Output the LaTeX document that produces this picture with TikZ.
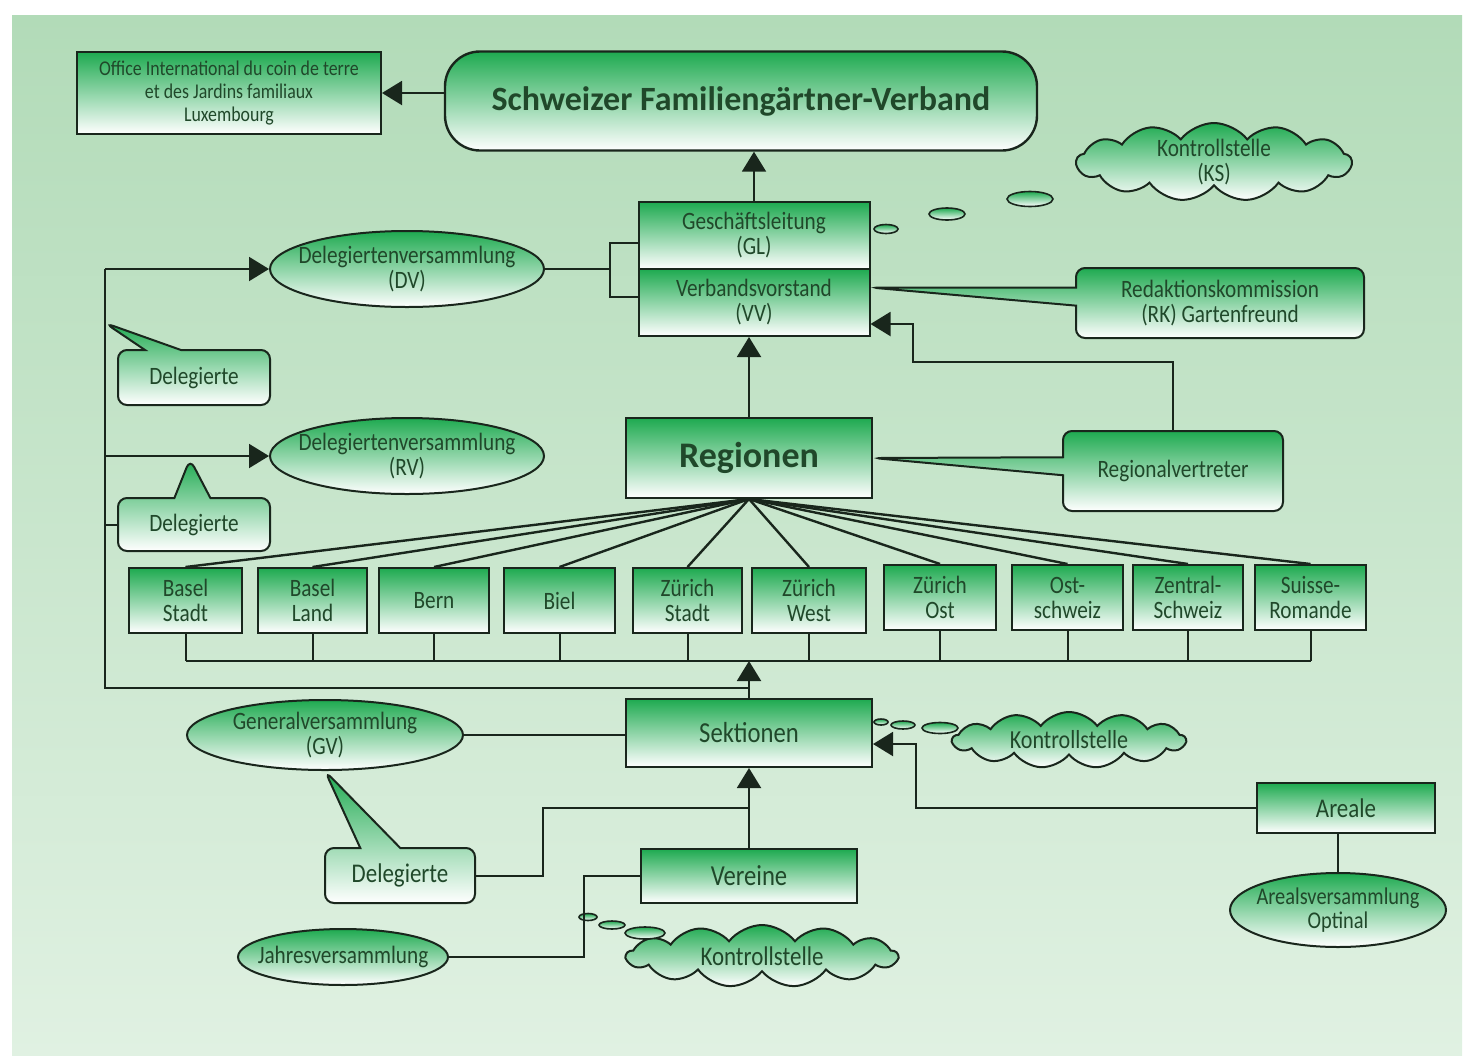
\documentclass[tikz,border=0pt]{standalone}
\usepackage{fontspec}
\setmainfont{Carlito}[FakeStretch=0.85]
\newfontfamily\widefont{Carlito}
\usepackage{tikz}
\usetikzlibrary{arrows.meta,shapes.geometric,shapes.symbols,shapes.callouts}
\usepackage{xcolor}
\definecolor{bgtop}{RGB}{178,219,184}
\definecolor{bgbot}{RGB}{224,241,226}
\definecolor{boxgreen}{RGB}{30,170,80}
\definecolor{linecol}{RGB}{25,38,28}
\definecolor{txtcol}{RGB}{32,72,42}
\tikzstyle{box}=[draw=linecol,line width=2pt,top color=boxgreen,bottom color=white,text=txtcol,align=center,inner sep=0pt,font=\fontsize{25}{25}\selectfont]
\tikzstyle{oval}=[box,ellipse]
\tikzstyle{speech}=[box,rectangle callout,rounded corners=9pt]
\tikzstyle{cloudy}=[box,cloud,cloud puffs=13,cloud puff arc=105,aspect=3.6]
\tikzstyle{bubble}=[draw=linecol,line width=1.6pt,top color=boxgreen,bottom color=white,ellipse,inner sep=0pt]
\tikzstyle{intext}=[text=txtcol,align=center,inner sep=0pt,font=\fontsize{25}{25}\selectfont]
\tikzstyle{link}=[draw=linecol,line width=2pt]

\begin{document}
\begin{tikzpicture}[x=1pt, y=-1pt, >={Triangle[length=20pt,width=24pt]}]

\useasboundingbox (0,0) rectangle (1470,1058);
\fill[white] (0,0) rectangle (1470,1058);
\shade[top color=bgtop,bottom color=bgbot] (12,15) rectangle (1462,1055);

\node [box,rounded corners=35pt,line width=2.4pt,minimum width=592pt,minimum height=99pt,font=\widefont\bfseries\fontsize{34}{34}\selectfont] (sfv) at (741,101) {Schweizer Familiengärtner-Verband};
\node [box,minimum width=304pt,minimum height=82pt,font=\fontsize{21}{23}\selectfont] (office) at (229,93) {Office International du coin de terre\\et des Jardins familiaux\\Luxembourg};
\node [box,minimum width=231pt,minimum height=67pt] (gl) at (754,235.5) {Geschäftsleitung\\(GL)};
\node [box,minimum width=231pt,minimum height=67pt] (vv) at (754,302.5) {Verbandsvorstand\\(VV)};
\node [box,minimum width=246pt,minimum height=80pt,font=\widefont\bfseries\fontsize{36}{36}\selectfont] (reg) at (749,458) {Regionen};
\node [box,minimum width=246pt,minimum height=68pt,font=\fontsize{29}{29}\selectfont] (sek) at (749,733) {Sektionen};
\node [box,minimum width=216pt,minimum height=54pt,font=\fontsize{29}{29}\selectfont] (ver) at (749,876) {Vereine};
\node [box,minimum width=178pt,minimum height=50pt,font=\fontsize{27}{27}\selectfont] (areale) at (1346,808) {Areale};

\node [oval,minimum width=274pt,minimum height=76pt,label={[intext]center:Delegiertenversammlung\\(DV)}] (dv) at (407,269) {};
\node [oval,minimum width=274pt,minimum height=76pt,label={[intext]center:Delegiertenversammlung\\(RV)}] (rv) at (407,456) {};
\node [oval,minimum width=276pt,minimum height=70pt,label={[intext]center:Generalversammlung\\(GV)}] (gv) at (325,735) {};
\node [oval,minimum width=210pt,minimum height=56pt,label={[intext]center:Jahresversammlung}] (jv) at (343,957) {};
\node [oval,minimum width=216pt,minimum height=74pt,label={[intext,font=\fontsize{24}{24}\selectfont]center:Arealsversammlung\\Optinal}] (av) at (1338,910) {};

\node [cloudy,minimum width=275pt,minimum height=78pt,label={[intext]center:Kontrollstelle\\(KS)}] (ks-1) at (1214,162) {};
\node [cloudy,minimum width=233pt,minimum height=56pt,label={[intext,font=\fontsize{26}{26}\selectfont]center:Kontrollstelle}] (ks-2) at (1069,740) {};
\node [cloudy,minimum width=271pt,minimum height=62pt,label={[intext,font=\fontsize{27}{27}\selectfont]center:Kontrollstelle}] (ks-3) at (762,956) {};

\foreach \x/\y/\w/\h [count=\i] in {886/229/24/9, 947/214/36/12, 1030/199/46/15, 881/722/14/6, 903/725/24/8, 940/728/36/11, 588/917/18/7, 612/925/26/8, 645/933/40/12}
  \node [bubble,minimum width=\w pt,minimum height=\h pt] (bub-\i) at (\x,\y) {};

\node [speech,minimum width=152pt,minimum height=55pt,callout absolute pointer={(105,323)},callout pointer width=36pt] (del-1) at (194,377.5) {Delegierte};
\node [speech,minimum width=152pt,minimum height=53pt,callout absolute pointer={(190,459)},callout pointer width=36pt] (del-2) at (194,524.5) {Delegierte};
\node [speech,minimum width=150pt,minimum height=55pt,callout absolute pointer={(gv.south)},callout pointer width=40pt,font=\fontsize{27}{27}\selectfont] (del-3) at (400,875.5) {Delegierte};
\node [speech,minimum width=288pt,minimum height=70pt,callout absolute pointer={([yshift=15pt]vv.east)},callout pointer width=18pt] (rk) at (1220,303) {Redaktionskommission\\(RK) Gartenfreund};
\node [speech,minimum width=220pt,minimum height=80pt,callout absolute pointer={(reg.east)},callout pointer width=18pt] (regv) at (1173,471) {Regionalvertreter};

\foreach \t/\x/\y/\w [count=\i] in {{Basel\\Stadt}/185.5/600.5/113, {Basel\\Land}/312.5/600.5/109, Bern/434/600.5/110, Biel/559.5/600.5/111, {Zürich\\Stadt}/687.5/600.5/109, {Zürich\\West}/809/600.5/114, {Zürich\\Ost}/940/597.5/112, {Ost-\\schweiz}/1067.5/597.5/111, {Zentral-\\Schweiz}/1188/597.5/110, {Suisse-\\Romande}/1310.5/597.5/111}
  \node [box,minimum width=\w pt,minimum height=65pt] (reg-\i) at (\x,\y) {\t};

\coordinate (bus) at (749,661);
\coordinate (lt) at (105,269);
\coordinate (lb) at (105,688);
\coordinate (brk) at (610,269);
\coordinate (rvk) at (913,362);
\coordinate (ark) at (916,808);
\coordinate (dj) at (543,808);
\coordinate (jj) at (584,957);

\foreach \i in {1,...,10} % Regionen zu Kantonen
  \draw [link,line width=2.4pt] (reg.south) -- (reg-\i.north);

\foreach \i in {1,...,10}
  \draw [link] (reg-\i.south) -- (reg-\i.south |- bus);
\draw [link] (reg-1.south |- bus) -- (reg-10.south |- bus);

\draw [link,->] (sfv.west |- office.east) -- (office.east);
\draw [link,->] (gl.north) -- (gl.north |- sfv.south);
\draw [link,->] (reg.north) -- (reg.north |- vv.south);
\draw [link,->] (sek.north) -- (sek.north |- bus);
\draw [link,->] (ver.north) -- (ver.north |- sek.south);

\draw [link] (dv.east) -- (brk);
\draw [link] ([yshift=-7.5pt]gl.west) -| (brk) |- ([yshift=5.5pt]vv.west);

\draw [link] (lt) -- (lb) -- (lb -| sek.north);
\draw [link,->] (lt) -- (dv.west);
\draw [link,->] (lt |- rv.west) -- (rv.west);
\draw [link] (lt |- del-2.west) -- (del-2.west);

\draw [link,->] (regv.north) |- (rvk) |- ([yshift=-21.5pt]vv.east);
\draw [link,->] (areale.west) -- (ark) |- ([yshift=-11pt]sek.east);
\draw [link] (av.north |- areale.south) -- (av.north);

\draw [link] (gv.east) -- (gv.east -| sek.west);
\draw [link] (del-3.east) -| (dj) -- (dj -| ver.north);
\draw [link] (jv.east) -- (jj) |- (ver.west);

\end{tikzpicture}
\end{document}
